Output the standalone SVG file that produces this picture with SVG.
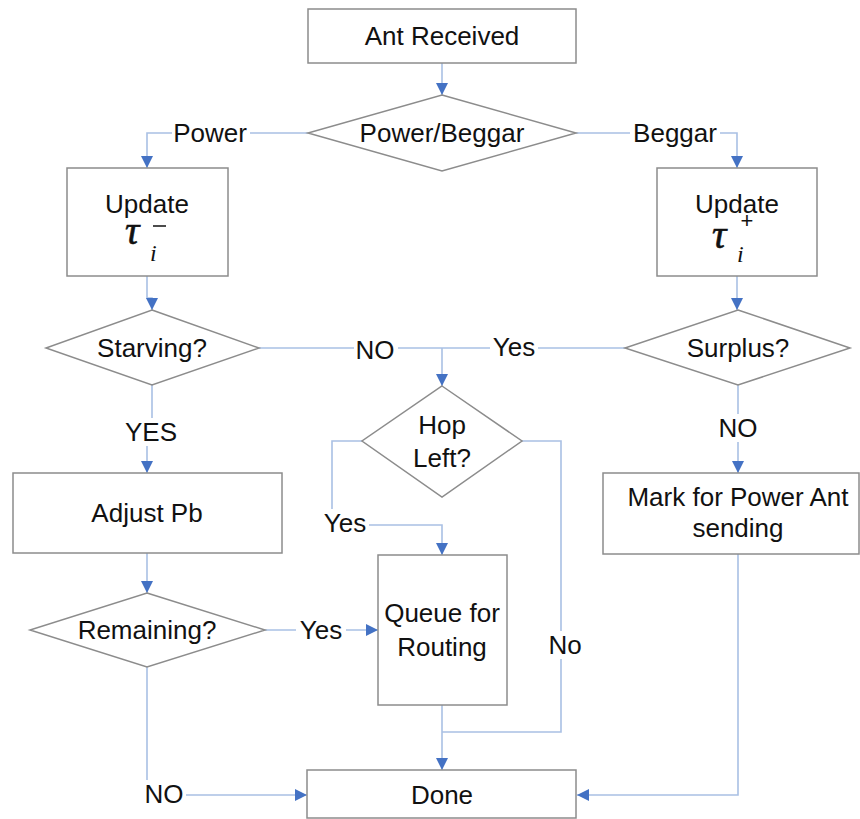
<svg xmlns="http://www.w3.org/2000/svg" width="860" height="819" viewBox="0 0 860 819">
  <style>
    .box { fill: #ffffff; stroke: #8c8c8c; stroke-width: 1.5; }
    .link { fill: none; stroke: #a9c0e4; stroke-width: 1.6; }
    .t { font-family: "Liberation Sans", Arial, sans-serif; font-size: 26px; fill: #111; text-anchor: middle; dominant-baseline: central; }
    .lbl-bg { fill: #ffffff; }
    .math { font-family: "Liberation Serif", "Times New Roman", serif; font-style: italic; fill: #111; }
    .tau { font-size: 40px; stroke: #111; stroke-width: 0.6; }
    .op { font-family: "Liberation Sans", Arial, sans-serif; fill: #111; text-anchor: middle; }
  </style>
  <defs>
    <marker id="arrow" markerUnits="userSpaceOnUse" markerWidth="12" markerHeight="12" viewBox="0 0 12 12" refX="12" refY="6" orient="auto">
      <path d="M0,0 L12,6 L0,12 Z" fill="#4472c4"/>
    </marker>
  </defs>
  <rect width="860" height="819" fill="#ffffff"/>

  <!-- connectors -->
  <g id="connectors">
    <path class="link" d="M442,63 V95" marker-end="url(#arrow)"/>
    <path class="link" d="M308,133 H147 V168" marker-end="url(#arrow)"/>
    <path class="link" d="M576,133 H737 V168" marker-end="url(#arrow)"/>
    <path class="link" d="M147,276 V298 H152 V310" marker-end="url(#arrow)"/>
    <path class="link" d="M737,276 V310" marker-end="url(#arrow)"/>
    <path class="link" d="M259,348 H625"/>
    <path class="link" d="M442,348 V386" marker-end="url(#arrow)"/>
    <path class="link" d="M152,385 V440 H147 V473" marker-end="url(#arrow)"/>
    <path class="link" d="M738,385 V473" marker-end="url(#arrow)"/>
    <path class="link" d="M362,441 H332 V525 H442 V555" marker-end="url(#arrow)"/>
    <path class="link" d="M522,441 H561 V732 H442"/>
    <path class="link" d="M442,705 V770" marker-end="url(#arrow)"/>
    <path class="link" d="M147,553 V593" marker-end="url(#arrow)"/>
    <path class="link" d="M265,630 H378" marker-end="url(#arrow)"/>
    <path class="link" d="M147,667 V795 H307" marker-end="url(#arrow)"/>
    <path class="link" d="M738,554 V795 H577" marker-end="url(#arrow)"/>
  </g>

  <!-- connector labels -->
  <g id="labels">
    <rect class="lbl-bg" x="172" y="120" width="78" height="28"/>
    <text class="t" x="210" y="133">Power</text>
    <rect class="lbl-bg" x="630" y="120" width="90" height="28"/>
    <text class="t" x="675" y="133">Beggar</text>
    <rect class="lbl-bg" x="354" y="335" width="44" height="28"/>
    <text class="t" x="375" y="350">NO</text>
    <rect class="lbl-bg" x="490" y="335" width="48" height="28"/>
    <text class="t" x="514" y="347">Yes</text>
    <rect class="lbl-bg" x="122" y="418" width="58" height="28"/>
    <text class="t" x="151" y="432">YES</text>
    <rect class="lbl-bg" x="716" y="414" width="44" height="28"/>
    <text class="t" x="738" y="428">NO</text>
    <rect class="lbl-bg" x="321" y="509" width="48" height="30"/>
    <text class="t" x="345" y="523">Yes</text>
    <rect class="lbl-bg" x="296" y="616" width="50" height="28"/>
    <text class="t" x="321" y="630">Yes</text>
    <rect class="lbl-bg" x="542" y="631" width="46" height="28"/>
    <text class="t" x="565" y="645">No</text>
    <rect class="lbl-bg" x="142" y="780" width="44" height="28"/>
    <text class="t" x="164" y="794">NO</text>
  </g>

  <!-- nodes -->
  <g id="ant-received">
    <rect class="box" x="308" y="9" width="268" height="54"/>
    <text class="t" x="442" y="36">Ant Received</text>
  </g>

  <g id="power-beggar">
    <polygon class="box" points="442,95 576,133 442,171 308,133"/>
    <text class="t" x="442" y="133">Power/Beggar</text>
  </g>

  <g id="update-minus">
    <rect class="box" x="67" y="168" width="161" height="108"/>
    <text class="t" x="147" y="204">Update</text>
    <text class="math tau" x="125" y="244">τ</text>
    <text class="math" x="150" y="261" font-size="24">i</text>
    <line x1="153" y1="226" x2="166" y2="226" stroke="#111" stroke-width="1.5"/>
  </g>

  <g id="update-plus">
    <rect class="box" x="657" y="168" width="160" height="108"/>
    <text class="t" x="737" y="204">Update</text>
    <text class="math tau" x="712" y="248">τ</text>
    <text class="math" x="737" y="262" font-size="24">i</text>
    <text class="op" x="747" y="228" font-size="22">+</text>
  </g>

  <g id="starving">
    <polygon class="box" points="152,310 259,348 152,385 46,348"/>
    <text class="t" x="152" y="348">Starving?</text>
  </g>

  <g id="surplus">
    <polygon class="box" points="738,310 850,348 738,385 625,348"/>
    <text class="t" x="738" y="348">Surplus?</text>
  </g>

  <g id="hop-left">
    <polygon class="box" points="442,386 522,441 442,497 362,441"/>
    <text class="t" x="442" y="425">Hop</text>
    <text class="t" x="442" y="458">Left?</text>
  </g>

  <g id="adjust-pb">
    <rect class="box" x="13" y="473" width="269" height="80"/>
    <text class="t" x="147" y="513">Adjust Pb</text>
  </g>

  <g id="mark-power-ant">
    <rect class="box" x="603" y="473" width="256" height="81"/>
    <text class="t" x="738" y="497" font-size="24">Mark for Power Ant</text>
    <text class="t" x="738" y="528" font-size="24">sending</text>
  </g>

  <g id="remaining">
    <polygon class="box" points="147,593 265,630 147,667 30,630"/>
    <text class="t" x="147" y="630">Remaining?</text>
  </g>

  <g id="queue-routing">
    <rect class="box" x="378" y="555" width="129" height="150"/>
    <text class="t" x="442" y="613">Queue for</text>
    <text class="t" x="442" y="647">Routing</text>
  </g>

  <g id="done">
    <rect class="box" x="307" y="770" width="269" height="48"/>
    <text class="t" x="442" y="795">Done</text>
  </g>
</svg>
